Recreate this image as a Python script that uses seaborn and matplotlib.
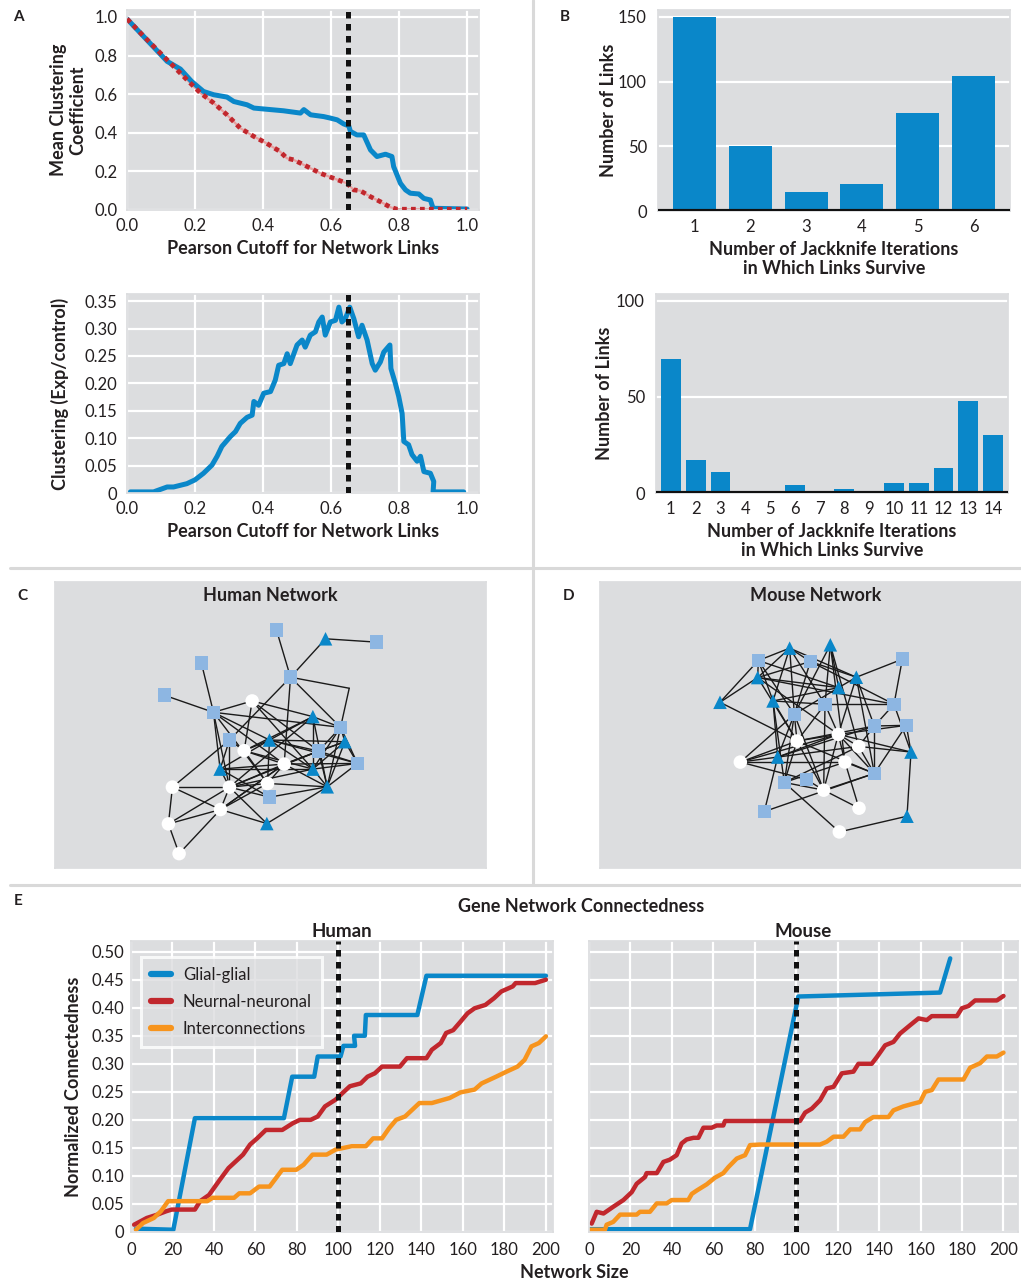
import matplotlib
matplotlib.use('Agg')
import numpy as np
import pandas as pd
import matplotlib.pyplot as plt
from matplotlib.lines import Line2D
import seaborn as sns

# ---- panel A: clustering vs Pearson cutoff ----
a_blue_x = [0.0, 0.118, 0.157, 0.19, 0.225, 0.255, 0.294, 0.314, 0.353, 0.373, 0.41, 0.46, 0.51,
            0.52, 0.54, 0.578, 0.598, 0.618, 0.637, 0.652, 0.657, 0.676, 0.696, 0.716, 0.735, 0.76,
            0.779, 0.784, 0.804, 0.819, 0.833, 0.858, 0.873, 0.892, 0.9, 1.0]
a_blue_y = [0.99, 0.77, 0.73, 0.666, 0.614, 0.597, 0.585, 0.562, 0.545, 0.528, 0.522, 0.514, 0.502,
            0.52, 0.493, 0.484, 0.476, 0.467, 0.446, 0.436, 0.407, 0.389, 0.389, 0.311, 0.277, 0.289,
            0.277, 0.225, 0.138, 0.104, 0.087, 0.083, 0.06, 0.052, 0.009, 0.005]
a_red_x = [0.0, 0.049, 0.098, 0.137, 0.176, 0.216, 0.255, 0.294, 0.333, 0.373, 0.41, 0.45, 0.47,
           0.49, 0.53, 0.569, 0.608, 0.647, 0.667, 0.686, 0.716, 0.745, 0.775, 0.794, 1.0]
a_red_y = [0.99, 0.9, 0.813, 0.744, 0.675, 0.606, 0.554, 0.493, 0.424, 0.381, 0.346, 0.303, 0.268,
           0.26, 0.225, 0.19, 0.164, 0.138, 0.104, 0.1, 0.069, 0.043, 0.014, 0.004, 0.004]
ratio_x = [0.01, 0.078, 0.118, 0.137, 0.176, 0.2, 0.225, 0.25, 0.265, 0.279, 0.304, 0.319, 0.333,
           0.353, 0.368, 0.373, 0.387, 0.402, 0.422, 0.436, 0.446, 0.461, 0.471, 0.48, 0.5, 0.515,
           0.524, 0.539, 0.554, 0.564, 0.574, 0.583, 0.598, 0.613, 0.623, 0.632, 0.642, 0.655,
           0.667, 0.681, 0.691, 0.706, 0.721, 0.73, 0.745, 0.755, 0.773, 0.776, 0.789, 0.799,
           0.809, 0.814, 0.828, 0.838, 0.853, 0.863, 0.873, 0.892, 0.902, 0.9, 0.99]
ratio_y = [0.002, 0.002, 0.011, 0.011, 0.017, 0.024, 0.036, 0.051, 0.067, 0.085, 0.103, 0.112, 0.127,
           0.138, 0.142, 0.167, 0.16, 0.182, 0.185, 0.206, 0.233, 0.236, 0.254, 0.236, 0.27, 0.279,
           0.266, 0.288, 0.294, 0.312, 0.321, 0.288, 0.312, 0.315, 0.339, 0.312, 0.318, 0.339,
           0.318, 0.285, 0.306, 0.279, 0.236, 0.224, 0.239, 0.257, 0.27, 0.227, 0.2, 0.176,
           0.145, 0.094, 0.088, 0.07, 0.058, 0.067, 0.039, 0.036, 0.021, 0.002, 0.002]
cutoff = 0.65

# ---- panel B: jackknife survival ----
iters6 = [1, 2, 3, 4, 5, 6]
links6 = [150, 50, 15, 21, 76, 104]
iters14 = [1, 2, 3, 4, 5, 6, 7, 8, 9, 10, 11, 12, 13, 14]
links14 = [70, 17, 11, 0, 0, 4, 0, 2, 1, 5, 5, 13, 48, 30]

# ---- panels C/D: networks (layout coordinates) ----
human_nodes = ["s1", "s2", "s3", "s4", "s5", "s6", "s7", "s8", "s9", "s10", "s11",
               "t1", "t2", "t3", "t4", "t5", "t6", "t7", "t8",
               "c1", "c2", "c3", "c4", "c5", "c6", "c7", "c8", "c9", "j"]
human_x = [829, 1129, 604, 493, 871, 640, 1021, 688, 955, 1072, 808,
           976, 938, 808, 1034, 660, 938, 981, 800,
           756, 732, 852, 517, 688, 802, 661, 505, 537, 1047]
human_y = [166, 202, 265, 361, 307, 412, 457, 495, 528, 565, 666,
           192, 425, 495, 500, 582, 582, 635, 745,
           378, 527, 567, 636, 636, 625, 703, 746, 835, 340]
human_kind = ["square"] * 11 + ["triangle"] * 8 + ["circle"] * 9 + ["bend"]
human_edges = [("s1", "s5"), ("t1", "s5"), ("t1", "s2"), ("s3", "s6"), ("s4", "s6"), ("s5", "j"),
               ("j", "s7"), ("s5", "s8"), ("s5", "c3"), ("s5", "s7"), ("s6", "c1"), ("c1", "t2"),
               ("c1", "c2"), ("c1", "t6"), ("s6", "s7"), ("s6", "t3"), ("s6", "c3"), ("s6", "t5"),
               ("s6", "c5"), ("s6", "c6"), ("s8", "t5"), ("s8", "c5"), ("s8", "c2"), ("s8", "c4"),
               ("t2", "t3"), ("t2", "s7"), ("t2", "t6"), ("t2", "t7"), ("t2", "c2"), ("t2", "c5"),
               ("c2", "t3"), ("c2", "c3"), ("c2", "c6"), ("c2", "t6"), ("c3", "t4"), ("c3", "s9"),
               ("c3", "t7"), ("c3", "c5"), ("c3", "c6"), ("c3", "c7"), ("c3", "s10"), ("c3", "t5"),
               ("t3", "s9"), ("t3", "t4"), ("t3", "t6"), ("t3", "s10"), ("t3", "c6"), ("t3", "t5"),
               ("s9", "t4"), ("s9", "t7"), ("s9", "c5"), ("s9", "s10"), ("t4", "t7"), ("t4", "s10"),
               ("t4", "t6"), ("t4", "s7"), ("s7", "t7"), ("s7", "t6"), ("s7", "s9"), ("t6", "t7"),
               ("t6", "c5"), ("t6", "s10"), ("t7", "s10"), ("t7", "s11"), ("t7", "c6"), ("t7", "t8"),
               ("t5", "c5"), ("t5", "t6"), ("t5", "s11"), ("c5", "c6"), ("c5", "t8"), ("c5", "c7"),
               ("c5", "c4"), ("c5", "c8"), ("c5", "s11"), ("c6", "s11"), ("c6", "c7"), ("c4", "c7"),
               ("c4", "c8"), ("c8", "c7"), ("c8", "c9"), ("c9", "c7"), ("c7", "t8"), ("c7", "c3"),
               ("s7", "s10"), ("c1", "s9")]

mouse_nodes = ["ms1", "ms2", "ms3", "ms4", "ms5", "ms6", "ms7", "ms8", "ms9", "ms10", "ms11", "ms12",
               "mt1", "mt2", "mt3", "mt4", "mt5", "mt6", "mt7", "mt8", "mt9", "mt10",
               "mc1", "mc2", "mc3", "mc4", "mc5", "mc6", "mc7", "mc8"]
mouse_x = [685, 841, 1117, 885, 1092, 793, 1033, 1129, 763, 829, 1033, 703,
           779, 901, 683, 979, 926, 570, 729, 743, 1143, 1131,
           801, 925, 986, 945, 631, 881, 987, 928]
mouse_y = [257, 260, 253, 388, 388, 418, 453, 451, 622, 613, 595, 709,
           220, 210, 308, 307, 338, 382, 378, 546, 531, 723,
           498, 478, 514, 561, 561, 645, 699, 770]
mouse_kind = ["square"] * 12 + ["triangle"] * 10 + ["circle"] * 8
mouse_edges = [("mt6", "ms1"), ("mt6", "mt3"), ("mt6", "mc1"), ("ms1", "mt1"), ("ms1", "mt3"),
               ("ms1", "ms6"), ("ms1", "mt5"), ("ms1", "mt7"), ("mt1", "ms2"), ("mt1", "ms6"),
               ("mt1", "mt3"), ("mt1", "ms4"), ("mt1", "mt7"), ("mt1", "mt4"), ("mt2", "ms6"),
               ("mt2", "mt5"), ("mt2", "mc4"), ("mt2", "ms4"), ("mt2", "mc3"), ("ms2", "mt4"),
               ("ms2", "ms6"), ("ms2", "ms5"), ("ms2", "mt3"), ("ms3", "mt4"), ("ms3", "ms5"),
               ("ms5", "ms4"), ("ms5", "ms7"), ("ms5", "mt3"), ("ms5", "mt9"), ("mt4", "ms7"),
               ("mt4", "mt5"), ("mt4", "mc2"), ("mt4", "ms11"), ("mt3", "mc2"), ("mt3", "mt5"),
               ("mt3", "mc1"), ("mt7", "ms4"), ("mt7", "mt8"), ("mt7", "mc1"), ("mt7", "ms9"),
               ("mt7", "mt5"), ("ms6", "mc1"), ("ms6", "mc5"), ("ms6", "ms9"), ("ms6", "mc6"),
               ("ms6", "mt8"), ("ms6", "mt5"), ("ms4", "mc2"), ("ms4", "mc1"), ("ms4", "mc6"),
               ("ms7", "mc3"), ("ms7", "ms8"), ("ms7", "mc1"), ("ms7", "mt8"), ("ms7", "ms11"),
               ("ms8", "mt9"), ("ms8", "mc2"), ("ms8", "ms11"), ("mt9", "mt10"), ("mt9", "mc3"),
               ("mt10", "mc8"), ("mc8", "ms9"), ("mc2", "mc4"), ("mc2", "mc6"), ("mc2", "mc3"),
               ("mc2", "ms11"), ("mc2", "mt8"), ("mc2", "mc5"), ("mc3", "mt8"), ("mc3", "ms9"),
               ("mc4", "ms11"), ("mc4", "ms9"), ("mc4", "mc7"), ("mc5", "mt8"), ("mc5", "mc1"),
               ("mc5", "ms10"), ("mc5", "mc4"), ("mt8", "ms12"), ("ms12", "ms11"), ("ms9", "mc6"),
               ("ms10", "mc6"), ("mc6", "mc7"), ("mc6", "ms11"), ("mc1", "mc6"), ("mc1", "ms11"),
               ("mc1", "mc2"), ("mc1", "ms9"), ("mc2", "mt9"), ("mc3", "ms11")]

# ---- panel E: connectedness vs network size ----
hum_glial_x = [2.4, 20.4, 30.8, 73.7, 77.7, 88.3, 90, 101, 102.4, 108, 107.5, 112.7, 113.2, 138, 142.4, 200]
hum_glial_y = [0.006, 0.004, 0.203, 0.203, 0.277, 0.277, 0.313, 0.313, 0.332, 0.332, 0.35, 0.35,
               0.387, 0.387, 0.457, 0.457]
hum_neur_x = [1.5, 7.6, 12.7, 17, 19.6, 30.8, 33.3, 37.6, 42.8, 47, 50.5, 54, 57.4, 60.8, 65, 72.9,
              78, 81.4, 86.6, 90, 93.5, 98.6, 102, 105.5, 110.7, 114, 117.5, 121, 129.6, 133, 142.4,
              145, 149.3, 151.9, 155.3, 158.8, 162.2, 165.6, 170.8, 175, 178.5, 184, 185.4, 194.8, 200]
hum_neur_y = [0.013, 0.025, 0.031, 0.037, 0.04, 0.04, 0.055, 0.066, 0.093, 0.114, 0.126, 0.138,
              0.156, 0.167, 0.182, 0.182, 0.194, 0.2, 0.2, 0.206, 0.224, 0.236, 0.248, 0.26, 0.265,
              0.277, 0.283, 0.295, 0.295, 0.31, 0.31, 0.325, 0.337, 0.355, 0.36, 0.375, 0.39, 0.399,
              0.405, 0.417, 0.429, 0.438, 0.444, 0.444, 0.45]
hum_inter_x = [2.4, 5.8, 11, 14.4, 17.9, 36.8, 39.3, 49.7, 52.2, 57.4, 61.7, 66.8, 72.9, 79.7, 83.2,
               87.5, 94.3, 98.6, 106.4, 113.2, 116.7, 121, 124.4, 127.8, 132.1, 139, 145, 153.6,
               158.8, 165.6, 169, 176, 181, 186.3, 189.7, 193, 196.6, 200]
hum_inter_y = [0.004, 0.016, 0.025, 0.037, 0.055, 0.055, 0.061, 0.061, 0.069, 0.069, 0.081, 0.081,
               0.111, 0.111, 0.12, 0.138, 0.138, 0.147, 0.153, 0.153, 0.167, 0.167, 0.185, 0.2,
               0.206, 0.23, 0.23, 0.239, 0.249, 0.254, 0.265, 0.277, 0.286, 0.295, 0.307, 0.331,
               0.337, 0.349]
mou_glial_x = [0, 77.7, 101, 169.4, 174.3]
mou_glial_y = [0.005, 0.005, 0.42, 0.427, 0.488]
mou_neur_x = [1.3, 3.7, 7, 11.7, 16.6, 20.6, 23, 27, 27.8, 32.7, 35.9, 39, 42.3, 44.7, 47.1, 50.4,
              52.8, 55.2, 59.2, 61.6, 64.8, 65.6, 101.8, 104.3, 107.5, 111.5, 114.7, 118, 122,
              127.6, 130, 136.4, 138.9, 142.9, 146.9, 150.1, 155, 159, 163, 165.4, 177.5, 179.9,
              183.1, 186.3, 196.8, 200]
mou_neur_y = [0.015, 0.036, 0.033, 0.045, 0.057, 0.071, 0.086, 0.098, 0.105, 0.105, 0.125, 0.129,
              0.137, 0.158, 0.165, 0.168, 0.168, 0.186, 0.186, 0.19, 0.19, 0.198, 0.198, 0.213,
              0.22, 0.235, 0.256, 0.259, 0.283, 0.286, 0.3, 0.3, 0.312, 0.333, 0.339, 0.354, 0.369,
              0.381, 0.378, 0.385, 0.385, 0.399, 0.403, 0.413, 0.413, 0.421]
mou_inter_x = [0, 7.7, 8.5, 11.7, 15, 23, 24.6, 29.4, 32.7, 37.5, 39.9, 47.9, 49.6, 52, 56.8, 60.8,
               64.8, 67.3, 71.3, 75.3, 77.7, 82.5, 111.5, 114.7, 118, 122.8, 126, 130.8, 133.2,
               137.2, 144.5, 146.9, 151.7, 156.6, 159.8, 162.2, 165.4, 168.6, 180.7, 183.9, 188.7,
               192, 196.8, 200]
mou_inter_y = [0.004, 0.004, 0.013, 0.018, 0.031, 0.031, 0.036, 0.036, 0.051, 0.051, 0.057, 0.057,
               0.068, 0.074, 0.085, 0.097, 0.105, 0.116, 0.131, 0.137, 0.155, 0.156, 0.156, 0.161,
               0.17, 0.17, 0.183, 0.183, 0.196, 0.205, 0.205, 0.217, 0.224, 0.229, 0.232, 0.25,
               0.253, 0.272, 0.272, 0.293, 0.301, 0.313, 0.313, 0.32]
size_cut = 100
series_names = ["Glial-glial", "Neurnal-neuronal", "Interconnections"]

BG = "#DCDDDF"
BLUE = "#0A87C9"
RED = "#C1272D"
ORANGE = "#F7941D"
LIGHT = "#8DB6E2"
TXT = "#231F20"

sns.set_theme(style="darkgrid", rc={"axes.facecolor": BG, "grid.color": "white",
                                     "grid.linewidth": 1.6, "axes.edgecolor": BG})
plt.rcParams['font.family'] = ['Lato', 'DejaVu Sans']
plt.rcParams['text.color'] = TXT
plt.rcParams['axes.labelcolor'] = TXT
plt.rcParams['xtick.color'] = TXT
plt.rcParams['ytick.color'] = TXT

TICK = 12
LAB = 13
W, H = 1021.0, 1283.0


def place(x0, y0, x1, y1):
    # pixel box (top-left origin) -> figure axes
    return fig.add_axes([x0 / W, 1 - y1 / H, (x1 - x0) / W, (y1 - y0) / H])


def cut_line(ax, x):
    ax.axvline(x, color="#111111", lw=3.6, ls=(0, (1.3, 1.1)), zorder=5)


def style(ax, xpad=6, ypad=7):
    ax.tick_params(labelsize=TICK, length=0)
    ax.tick_params(axis="x", pad=xpad)
    ax.tick_params(axis="y", pad=ypad)


fig = plt.figure(figsize=(W / 100, H / 100), dpi=100)

# A top
ax = place(127, 10, 479, 210)
sns.lineplot(x=a_red_x, y=a_red_y, estimator=None, sort=False, ax=ax, color="#E8A0A0", lw=1.6)
sns.lineplot(x=a_blue_x, y=a_blue_y, estimator=None, sort=False, ax=ax, color=BLUE, lw=3.6)
ax.plot(a_red_x, a_red_y, color=RED, lw=3.4, ls=(0, (1.0, 0.9)), zorder=4)
cut_line(ax, cutoff)
ax.set_xlim(0, 1.035)
ax.set_ylim(0, 1.036)
ax.set_xticks(np.arange(0, 1.01, 0.2))
ax.set_yticks(np.arange(0, 1.01, 0.2))
ax.set_xticklabels([f"{v:.1f}" for v in np.arange(0, 1.01, 0.2)])
ax.set_yticklabels([f"{v:.1f}" for v in np.arange(0, 1.01, 0.2)])
ax.set_xlabel("Pearson Cutoff for Network Links", fontsize=LAB, weight="bold", labelpad=4)
ax.set_ylabel("Mean Clustering\nCoefficient", fontsize=LAB, weight="bold", labelpad=6,
              linespacing=1.1)
style(ax)

# A bottom
ax = place(127, 294, 479, 493)
sns.lineplot(x=ratio_x, y=ratio_y, estimator=None, sort=False, ax=ax, color=BLUE, lw=3.6)
cut_line(ax, cutoff)
ax.set_xlim(0, 1.035)
ax.set_ylim(0, 0.363)
ax.set_xticks(np.arange(0, 1.01, 0.2))
ax.set_xticklabels([f"{v:.1f}" for v in np.arange(0, 1.01, 0.2)])
ax.set_yticks(np.arange(0, 0.351, 0.05))
ax.set_yticklabels(["0"] + [f"{v:.2f}" for v in np.arange(0.05, 0.351, 0.05)])
ax.set_xlabel("Pearson Cutoff for Network Links", fontsize=LAB, weight="bold", labelpad=4)
ax.set_ylabel("Clustering (Exp/control)", fontsize=LAB, weight="bold", labelpad=11)
style(ax)

# B top
ax = place(658, 10, 1010, 211)
sns.barplot(x=iters6, y=links6, color=BLUE, saturation=1, width=0.77, linewidth=0, ax=ax)
ax.axhline(0, color="#111111", lw=3, zorder=5)
ax.set_xlim(-0.65, 5.65)
ax.set_ylim(0, 155.4)
ax.set_yticks([0, 50, 100, 150])
ax.grid(axis="x", visible=False)
ax.set_xlabel("Number of Jackknife Iterations\nin Which Links Survive", fontsize=LAB,
              weight="bold", labelpad=4, linespacing=1.15)
ax.set_ylabel("Number of Links", fontsize=LAB, weight="bold", labelpad=1)
style(ax, xpad=6, ypad=8)

# B bottom
ax = place(656, 294, 1008, 493)
sns.barplot(x=iters14, y=links14, color=BLUE, saturation=1, width=0.8, linewidth=0, ax=ax)
ax.axhline(0, color="#111111", lw=3, zorder=5)
ax.set_xlim(-0.6, 13.6)
ax.set_ylim(0, 103.6)
ax.set_yticks([0, 50, 100])
ax.grid(axis="x", visible=False)
ax.set_xlabel("Number of Jackknife Iterations\nin Which Links Survive", fontsize=LAB,
              weight="bold", labelpad=4, linespacing=1.15)
ax.set_ylabel("Number of Links", fontsize=LAB, weight="bold", labelpad=2)
style(ax, xpad=6, ypad=8)


# C / D networks
def network(ax, names, xs, ys, kinds, edges, title, tx):
    nodes = pd.DataFrame({"name": names, "x": xs, "y": ys, "kind": kinds}).set_index("name")
    for a, b in edges:
        ax.plot([nodes.loc[a, "x"], nodes.loc[b, "x"]], [nodes.loc[a, "y"], nodes.loc[b, "y"]],
                color="#1a1a1a", lw=1.0, zorder=2)
    shown = nodes[nodes["kind"] != "bend"]
    sns.scatterplot(data=shown, x="x", y="y", hue="kind", style="kind",
                    hue_order=["square", "triangle", "circle"],
                    palette={"square": LIGHT, "triangle": BLUE, "circle": "white"},
                    markers={"square": "s", "triangle": "^", "circle": "o"},
                    s=95, linewidth=0, legend=False, ax=ax, zorder=3)
    ax.set_xticks([])
    ax.set_yticks([])
    ax.grid(False)
    ax.set_xlabel("")
    ax.set_ylabel("")
    ax.text(tx, 0.953, title, transform=ax.transAxes, ha="center", va="center",
            fontsize=13, weight="bold")


ax = place(55, 582, 486, 868)
network(ax, human_nodes, human_x, human_y, human_kind, human_edges, "Human Network", 0.5)
ax.set_xlim(165, 1457)
ax.set_ylim(878, 22)

ax = place(600, 582, 1021, 868)
network(ax, mouse_nodes, mouse_x, mouse_y, mouse_kind, mouse_edges, "Mouse Network", 0.512)
ax.set_xlim(210, 1473)
ax.set_ylim(878, 22)

# E
yt = np.arange(0, 0.501, 0.05)
axl = place(131, 941, 553, 1232)
axr = place(589, 941, 1018, 1232)
for ax, glx, gly, nx, ny, ix, iy in [
        (axl, hum_glial_x, hum_glial_y, hum_neur_x, hum_neur_y, hum_inter_x, hum_inter_y),
        (axr, mou_glial_x, mou_glial_y, mou_neur_x, mou_neur_y, mou_inter_x, mou_inter_y)]:
    sns.lineplot(x=glx, y=gly, estimator=None, sort=False, ax=ax, color=BLUE, lw=3.2,
                 label=series_names[0])
    sns.lineplot(x=nx, y=ny, estimator=None, sort=False, ax=ax, color=RED, lw=3.2,
                 label=series_names[1])
    sns.lineplot(x=ix, y=iy, estimator=None, sort=False, ax=ax, color=ORANGE, lw=3.2,
                 label=series_names[2])
    cut_line(ax, size_cut)
    ax.set_ylim(0, 0.519)
    ax.set_yticks(yt)
    ax.set_xticks(np.arange(0, 201, 20))
    style(ax, xpad=7, ypad=5)
    ax.set_xlabel("")
    ax.set_ylabel("")
axl.set_xlim(0, 203.4)
axr.set_xlim(0, 207)
axl.set_yticklabels(["0"] + [f"{v:.2f}" for v in yt[1:]])
axr.set_yticklabels([])
axr.get_legend().remove()
leg = axl.legend(loc="upper left", bbox_to_anchor=(0.024, 0.945), borderaxespad=0,
                 fontsize=12, frameon=True, fancybox=False, facecolor=BG, edgecolor="white",
                 handlelength=1.2, handletextpad=0.7, borderpad=0.6, labelspacing=0.65)
leg.get_frame().set_linewidth(2.2)
for h in leg.get_lines():
    h.set_linewidth(4.5)
axl.set_title("Human", fontsize=13.5, weight="bold", pad=3)
axr.set_title("Mouse", fontsize=13.5, weight="bold", pad=3)
axl.set_ylabel("Normalized Connectedness", fontsize=LAB, weight="bold", labelpad=7)
fig.text(581 / W, 1 - 907 / H, "Gene Network Connectedness", ha="center", va="center",
         fontsize=13, weight="bold")
fig.text(574 / W, 1 - 1273 / H, "Network Size", ha="center", va="center",
         fontsize=LAB, weight="bold")

# panel letters
for lab, px, py in [("A", 18, 17), ("B", 565, 17), ("C", 22, 596), ("D", 569, 596), ("E", 18, 901)]:
    fig.text(px / W, 1 - py / H, lab, ha="center", va="center", fontsize=11, weight="bold")

# separators
sep = "#D9D9D9"
fig.add_artist(Line2D([533 / W, 533 / W], [1 - 0 / H, 1 - 885 / H], color=sep, lw=2.2))
fig.add_artist(Line2D([10 / W, 1], [1 - 568 / H, 1 - 568 / H], color=sep, lw=2.2))
fig.add_artist(Line2D([10 / W, 1], [1 - 885 / H, 1 - 885 / H], color=sep, lw=2.2))

fig.savefig("out.png", dpi=100)
